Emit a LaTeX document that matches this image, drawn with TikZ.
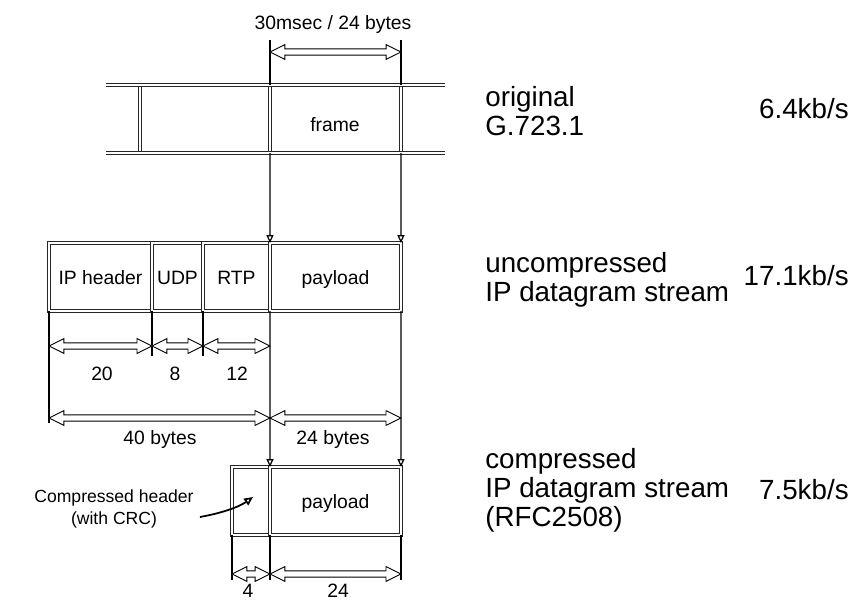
\documentclass[tikz,border=0pt]{standalone}
\usepackage{fontspec}
\setmainfont{Liberation Sans}
\usetikzlibrary{arrows.meta,calc,positioning}

\tikzset{
  rail/.style={draw=black!85, line width=0.45pt, double=white, double distance=1pt},
  field/.style={rectangle, rail, minimum height=1.36cm, inner sep=0pt, outer sep=0pt,
    text height=8pt, text depth=0pt, font=\fontsize{11}{13}\selectfont},
  guide/.style={draw=black, line width=0.7pt},
  drop/.style={guide, -{Triangle[open, length=4.5pt, width=4pt]}},
  pointer/.style={draw=black, line width=1pt, -{Triangle[open, length=5pt, width=4.5pt]}},
  dimline/.style={draw=black, line width=0.5pt, fill=white, line join=miter},
  small/.style={font=\fontsize{11}{13}\selectfont, inner sep=0pt},
  big/.style={font=\fontsize{15.8}{16.5}\selectfont, inner sep=0pt, align=left},
}

% hollow double-headed size arrow between two points at the height of the first
\newcommand{\dimarrow}[2]{%
  \draw[dimline] let \p1=(#1), \p2=(#2) in
    (\x1,\y1) -- (\x1+8.5pt,\y1+4.2pt) -- (\x1+8.5pt,\y1+1.8pt) -- (\x2-8.5pt,\y1+1.8pt)
    -- (\x2-8.5pt,\y1+4.2pt) -- (\x2,\y1) -- (\x2-8.5pt,\y1-4.2pt) -- (\x2-8.5pt,\y1-1.8pt)
    -- (\x1+8.5pt,\y1-1.8pt) -- (\x1+8.5pt,\y1-4.2pt) -- cycle;}

\begin{document}
\begin{tikzpicture}[x=0.02cm, y=-0.02cm]
\useasboundingbox (0,0) rectangle (851,600);

% G.723.1 frame stream
\coordinate (fnw) at (270,85);
\coordinate (fne) at (401,85);
\coordinate (fsw) at (270,153);
\coordinate (fse) at (401,153);
\draw[rail] (140,85) -- (140,153);
\draw[rail] (fnw) -- (fsw);
\draw[rail] (fne) -- (fse);
\draw[rail] (106,85) -- (445,85);
\draw[rail] (106,153) -- (445,153);
\node[small, anchor=base] (frame) at (335,131) {frame};

% frame length
\coordinate (ft1) at (270,40);
\coordinate (ft2) at (401,40);
\draw[guide] (ft1) -- (fnw);
\draw[guide] (ft2) -- (fne);
\dimarrow{$(ft1)+(0,12)$}{$(ft2)+(0,12)$}
\node[small, anchor=base] (flen) at (333,29) {30msec / 24 bytes};

% uncompressed datagram
\node[field, minimum width=2.06cm, anchor=north west] (iphdr) at (49,243) {IP header};
\node[field, minimum width=1.02cm, right=0pt of iphdr] (udp) {UDP};
\node[field, minimum width=1.34cm, right=0pt of udp] (rtp) {RTP};
\node[field, minimum width=2.62cm, right=0pt of rtp] (payload) {payload};
\draw[drop] (fsw) -- (payload.north west);
\draw[drop] (fse) -- (payload.north east);

% header sizes
\draw[guide] (iphdr.south west) -- ++(0,112);
\draw[guide] (udp.south west) -- ++(0,45);
\draw[guide] (udp.south east) -- ++(0,45);
\dimarrow{$(iphdr.south west)+(0,35)$}{$(udp.south west)+(0,35)$}
\dimarrow{$(udp.south west)+(0,35)$}{$(udp.south east)+(0,35)$}
\dimarrow{$(rtp.south west)+(0,35)$}{$(rtp.south east)+(0,35)$}
\node[small, anchor=base] (n20) at (102,380) {20};
\node[small, anchor=base] (n8) at (175,380) {8};
\node[small, anchor=base] (n12) at (237,380) {12};

\dimarrow{$(iphdr.south west)+(0,107)$}{$(payload.south west)+(0,107)$}
\dimarrow{$(payload.south west)+(0,107)$}{$(payload.south east)+(0,107)$}
\node[small, anchor=base] (n40) at (160,444) {40 bytes};
\node[small, anchor=base] (n24) at (333,444) {24 bytes};

% compressed datagram
\node[field, minimum width=0.76cm, anchor=north west] (chdr) at (232,467) {};
\node[field, minimum width=2.62cm, right=0pt of chdr] (cpay) {payload};
\draw[drop] (payload.south west) -- (cpay.north west);
\draw[drop] (payload.south east) -- (cpay.north east);

\node[font=\fontsize{10}{12.5}\selectfont, align=center, inner sep=0pt] (hdrnote) at (114,509)
  {Compressed header\\(with CRC)};
\draw[pointer] ($(hdrnote.east)+(6,8)$) .. controls +(22,-4) and +(-14,10) .. ($(chdr.center)+(2,-4)$);

\draw[guide] (chdr.south west) -- ++(0,45);
\draw[guide] (chdr.south east) -- ++(0,45);
\draw[guide] (cpay.south east) -- ++(0,45);
\dimarrow{$(chdr.south west)+(0,39)$}{$(chdr.south east)+(0,39)$}
\dimarrow{$(cpay.south west)+(0,39)$}{$(cpay.south east)+(0,39)$}
\node[small, anchor=base] (n4) at (248,597) {4};
\node[small, anchor=base] (nc24) at (338,597) {24};

% stream names and rates (base = last line)
\node[big, anchor=base west] (orig) at (485,135) {original\\G.723.1};
\node[big, anchor=base east] (rorig) at (849,118) {6.4kb/s};
\node[big, anchor=base west] (uncomp) at (485,301) {uncompressed\\IP datagram stream};
\node[big, anchor=base east] (runcomp) at (849,285) {17.1kb/s};
\node[big, anchor=base west] (comp) at (485,526) {compressed\\IP datagram stream\\(RFC2508)};
\node[big, anchor=base east] (rcomp) at (849,499) {7.5kb/s};
\end{tikzpicture}
\end{document}
